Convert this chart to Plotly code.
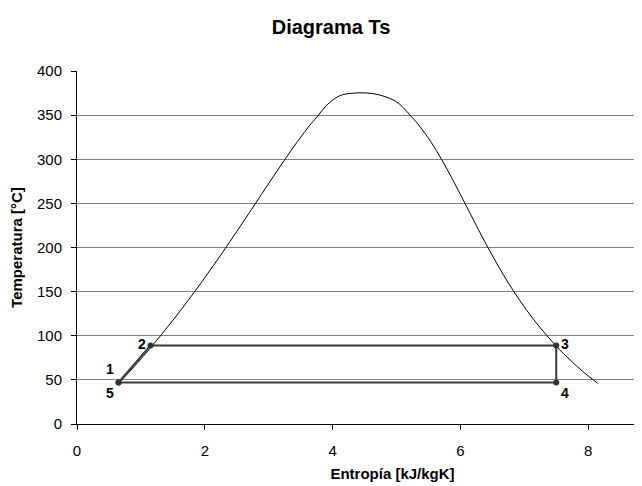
import plotly.graph_objects as go

# Saturation dome (T in °C, s in kJ/kgK), liquid side going up, vapour side going up
liq_T = [46, 60, 80, 100, 120, 140, 160, 180, 200, 220, 240, 260, 280, 300, 320, 340, 350, 360, 368, 373]
liq_s = [0.65, 0.8313, 1.0756, 1.3072, 1.5279, 1.7392, 1.9426, 2.1392, 2.3305,
         2.5177, 2.7020, 2.8849, 3.0685, 3.2552, 3.4494, 3.6601, 3.7784, 3.89, 4.02, 4.15]
vap_T = [46, 60, 80, 100, 120, 140, 160, 180, 200, 220, 240, 260, 280, 300, 320, 340, 350, 359, 366, 371, 374.5]
vap_s = [8.15, 7.9081, 7.6111, 7.3541, 7.1291, 6.9293, 6.7491, 6.5840, 6.4302,
         6.2840, 6.1423, 6.0010, 5.8565, 5.7042, 5.5356, 5.3345, 5.2117, 5.10, 4.98, 4.82, 4.62]
crit_T = 375.2
crit_s = 4.40

# Cycle points
cycle_labels = ["<b>1</b>", "<b>2</b>", "<b>3</b>", "<b>4</b>", "<b>5</b>"]
cycle_s = [0.65, 1.15, 7.5, 7.5, 0.65]
cycle_T = [47, 89, 89, 47, 47]
label_pos = ["top left", "middle left", "middle right", "bottom right", "bottom left"]

x_ticks = [0, 2, 4, 6, 8]
y_ticks = [0, 50, 100, 150, 200, 250, 300, 350, 400]

dome_x = liq_s + [crit_s] + vap_s[::-1]
dome_y = liq_T + [crit_T] + vap_T[::-1]

FONT = "Liberation Sans, Arial, sans-serif"

fig = go.Figure()
fig.add_trace(go.Scatter(x=dome_x, y=dome_y, mode="lines",
                         line=dict(color="black", width=1, shape="spline", smoothing=1),
                         hoverinfo="skip", showlegend=False))
fig.add_trace(go.Scatter(x=cycle_s, y=cycle_T, mode="lines+markers+text",
                         text=cycle_labels, textposition=label_pos,
                         textfont=dict(family=FONT, size=14, color="black"),
                         line=dict(color="#3a3a3a", width=2),
                         marker=dict(color="#333333", size=6),
                         showlegend=False))

# page body has an 8px margin: figure is shifted by 8px right/down.
# The chart is cropped on the right: the plot area runs past the window edge.
W = 700
H = 478
L = 69
fig.update_layout(
    width=W, height=H,
    margin=dict(l=L, r=0, t=63, b=62),
    paper_bgcolor="white", plot_bgcolor="white",
    font=dict(family=FONT, size=15, color="black"),
    title=dict(text="<b>Diagrama Ts</b>", x=323/W, xref="container", xanchor="center",
               y=1 - 19/H, yref="container", yanchor="middle",
               font=dict(size=20, color="black")),
)
fig.update_xaxes(range=[0, (W - L) / 63.9], tickvals=x_ticks, showgrid=False, zeroline=False,
                 showline=True, linecolor="black", linewidth=1,
                 ticks="outside", ticklen=5, tickcolor="black", ticklabelstandoff=8,
                 tickfont=dict(size=15),
                 title=dict(text="<b>Entropía [kJ/kgK]</b>", font=dict(size=15), standoff=10))
fig.update_yaxes(range=[0, 400], tickvals=y_ticks, showgrid=True, gridcolor="#808080",
                 gridwidth=1, zeroline=False,
                 showline=True, linecolor="black", linewidth=1,
                 ticks="outside", ticklen=5, tickcolor="black", ticklabelstandoff=6,
                 tickfont=dict(size=15),
                 title=dict(text="<b>Temperatura [°C]</b>", font=dict(size=15), standoff=10))

fig.write_html(
    "out.html",
    post_script="document.documentElement.style.overflow='hidden';document.body.style.overflow='hidden';",
)
